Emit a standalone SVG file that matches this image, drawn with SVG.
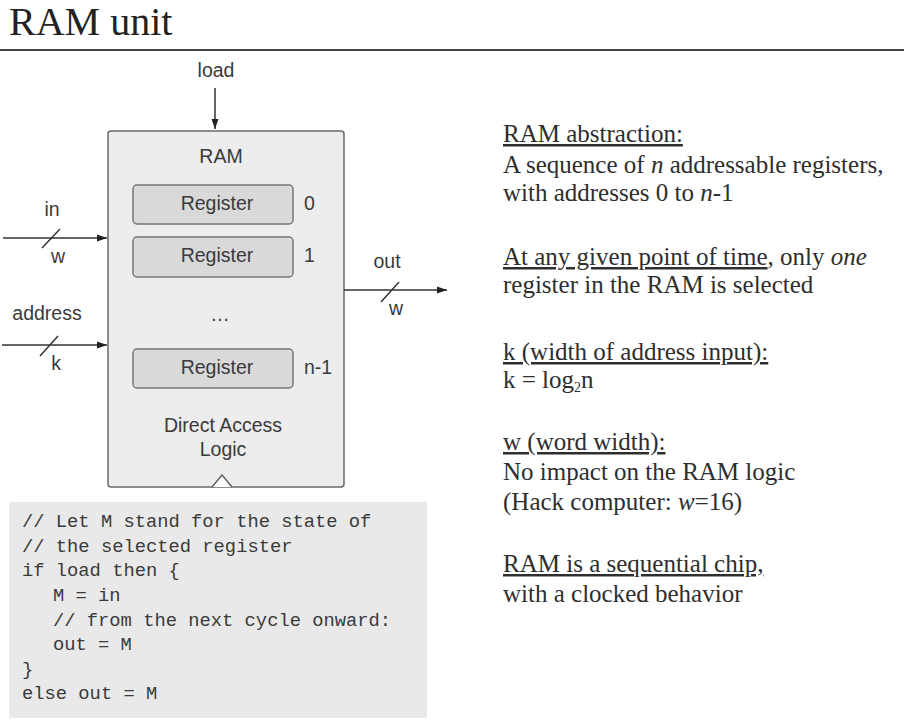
<svg xmlns="http://www.w3.org/2000/svg" width="904" height="728" viewBox="0 0 904 728">
<defs>
<style>
.sans{font-family:"Liberation Sans",Arial,sans-serif;fill:#3a3a3a;font-size:19.5px;}
.serif{font-family:"Liberation Serif","Times New Roman",serif;fill:#2e2e2e;font-size:25px;}
.mono{font-family:"Liberation Mono","DejaVu Sans Mono",monospace;fill:#3a3a3a;font-size:18.8px;}
.wire{stroke:#333;stroke-width:1.5;fill:none;}
.reg{fill:#d9d9d9;stroke:#777;stroke-width:1.5;}
.u{text-decoration:underline;}
</style>
<marker id="arr" viewBox="0 0 10 10" refX="10" refY="5" markerWidth="10" markerHeight="10" markerUnits="userSpaceOnUse" orient="auto">
<path d="M0,1.5 L10,5 L0,8.5 Z" fill="#222"/>
</marker>
</defs>
<rect width="904" height="728" fill="#ffffff"/>
<text x="9" y="35" style="font-family:'Liberation Serif','Times New Roman',serif;font-size:40px;fill:#222">RAM unit</text>
<line x1="0" y1="50" x2="904" y2="50" stroke="#444" stroke-width="2"/>

<g id="ram">
<rect x="108" y="131" width="236" height="356" rx="3" fill="#ededed" stroke="#6a6a6a" stroke-width="1.5"/>
<text class="sans" x="221" y="163" text-anchor="middle">RAM</text>
<path d="M212,487 L222,475 L232,487" fill="#ffffff" stroke="#555" stroke-width="1.3"/>
<text class="sans" x="223" y="432" text-anchor="middle">Direct Access</text>
<text class="sans" x="223" y="456" text-anchor="middle">Logic</text>
<text class="sans" x="220" y="321" text-anchor="middle" font-size="34">…</text>
</g>
<g id="reg0">
<rect class="reg" x="133" y="185" width="160" height="39" rx="4"/>
<text class="sans" x="217" y="210" text-anchor="middle">Register</text>
<text class="sans" x="304" y="210">0</text>
</g>
<g id="reg1">
<rect class="reg" x="133" y="237" width="160" height="40" rx="4"/>
<text class="sans" x="217" y="262" text-anchor="middle">Register</text>
<text class="sans" x="304" y="262">1</text>
</g>
<g id="regn">
<rect class="reg" x="133" y="349" width="160" height="39" rx="4"/>
<text class="sans" x="217" y="374" text-anchor="middle">Register</text>
<text class="sans" x="304" y="374">n-1</text>
</g>

<g id="connectors">
<line class="wire" x1="215" y1="88" x2="215" y2="129" marker-end="url(#arr)"/>
<line class="wire" x1="3" y1="238" x2="107" y2="238" marker-end="url(#arr)"/>
<line class="wire" x1="42" y1="248" x2="60" y2="229"/>
<line class="wire" x1="2" y1="345" x2="107" y2="345" marker-end="url(#arr)"/>
<line class="wire" x1="40" y1="356" x2="58" y2="336"/>
<line class="wire" x1="344" y1="290" x2="447" y2="290" marker-end="url(#arr)"/>
<line class="wire" x1="381" y1="302" x2="399" y2="282"/>
</g>
<g id="labels">
<text class="sans" x="216" y="77" text-anchor="middle" font-size="19">load</text>
<text class="sans" x="52" y="216" text-anchor="middle" font-size="19">in</text>
<text class="sans" x="58" y="263" text-anchor="middle" font-size="19">w</text>
<text class="sans" x="47" y="320" text-anchor="middle" font-size="19">address</text>
<text class="sans" x="56" y="370" text-anchor="middle" font-size="19">k</text>
<text class="sans" x="387" y="268" text-anchor="middle" font-size="19">out</text>
<text class="sans" x="396" y="315" text-anchor="middle" font-size="19">w</text>
</g>

<g id="code">
<rect x="9" y="502" width="418" height="216" fill="#e9e9e9"/>
<text class="mono" x="22" y="527">// Let M stand for the state of</text>
<text class="mono" x="22" y="552">// the selected register</text>
<text class="mono" x="22" y="576">if load then {</text>
<text class="mono" x="53" y="601">M = in</text>
<text class="mono" x="53" y="626">// from the next cycle onward:</text>
<text class="mono" x="53" y="650">out = M</text>
<text class="mono" x="22" y="675">}</text>
<text class="mono" x="22" y="699">else out = M</text>
</g>

<g id="notes">
<text class="serif u" x="503" y="142">RAM abstraction:</text>
<text class="serif" x="503" y="173">A sequence of <tspan font-style="italic">n</tspan> addressable registers,</text>
<text class="serif" x="503" y="201">with addresses 0 to <tspan font-style="italic">n</tspan>-1</text>
<text class="serif" x="503" y="265"><tspan class="u">At any given point of time</tspan>, only <tspan font-style="italic">one</tspan></text>
<text class="serif" x="503" y="293">register in the RAM is selected</text>
<text class="serif u" x="503" y="360">k (width of address input):</text>
<text class="serif" x="503" y="388">k = log<tspan font-size="14" dy="4">2</tspan><tspan dy="-4">n</tspan></text>
<text class="serif u" x="503" y="450">w (word width):</text>
<text class="serif" x="503" y="480">No impact on the RAM logic</text>
<text class="serif" x="503" y="510">(Hack computer: <tspan font-style="italic">w</tspan>=16)</text>
<text class="serif u" x="503" y="572">RAM is a sequential chip,</text>
<text class="serif" x="503" y="602">with a clocked behavior</text>
</g>
</svg>
